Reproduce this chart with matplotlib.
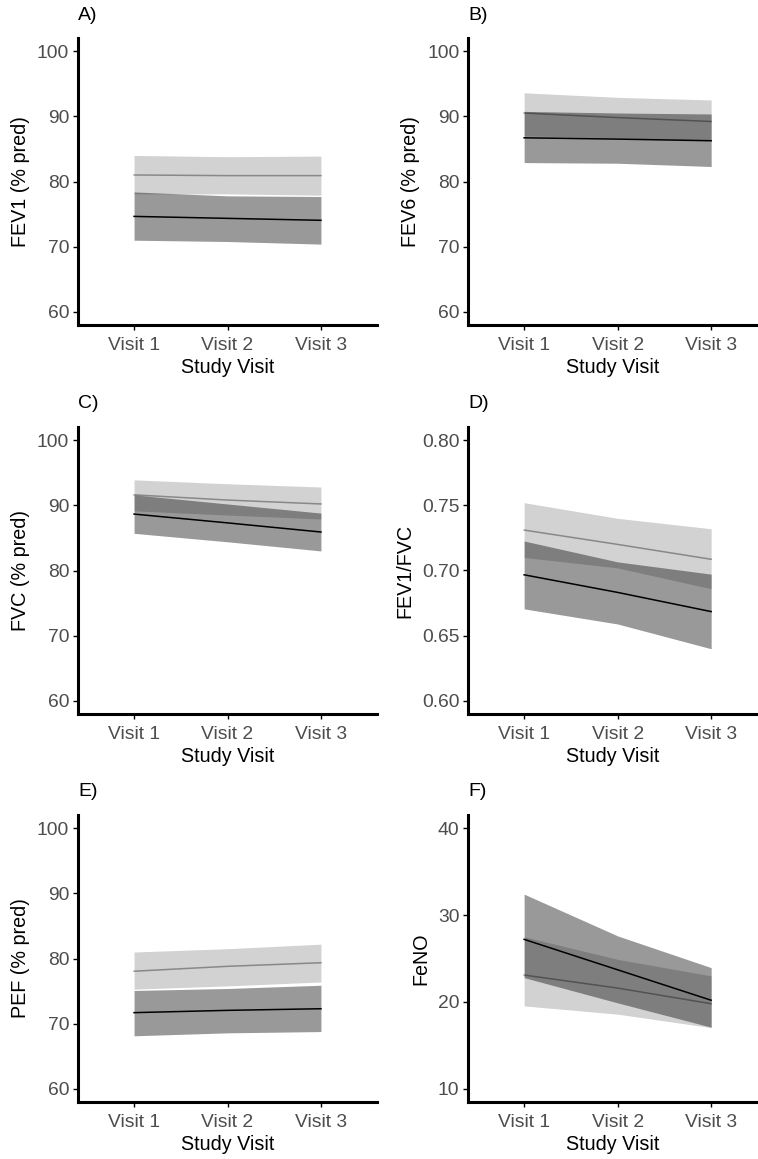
import numpy as np
import matplotlib
matplotlib.use("Agg")
import matplotlib.pyplot as plt
from matplotlib.ticker import MultipleLocator

plt.rcParams['font.family'] = ['Liberation Sans', 'DejaVu Sans']

# Donnees (moyenne, borne basse, borne haute)
visites = ["Visit 1", "Visit 2", "Visit 3"]

# A) FEV1
fev1_g1 = [81.0, 80.9, 80.9]
fev1_g1_bas = [78.1, 78.1, 77.9]
fev1_g1_haut = [84.0, 83.8, 83.9]
fev1_g2 = [74.65, 74.35, 74.05]
fev1_g2_bas = [71.0, 70.8, 70.4]
fev1_g2_haut = [78.4, 77.8, 77.7]

# B) FEV6
fev6_g1 = [90.5, 89.8, 89.2]
fev6_g1_bas = [87.0, 86.7, 86.3]
fev6_g1_haut = [93.6, 92.9, 92.5]
fev6_g2 = [86.7, 86.5, 86.25]
fev6_g2_bas = [82.9, 82.8, 82.3]
fev6_g2_haut = [90.75, 90.5, 90.35]

# C) FVC
fvc_g1 = [91.6, 90.8, 90.2]
fvc_g1_bas = [89.15, 88.5, 87.9]
fvc_g1_haut = [93.9, 93.3, 92.8]
fvc_g2 = [88.65, 87.3, 85.9]
fvc_g2_bas = [85.7, 84.4, 83.0]
fvc_g2_haut = [91.6, 90.2, 88.8]

# D) FEV1/FVC
ratio_g1 = [0.731, 0.720, 0.7086]
ratio_g1_bas = [0.710, 0.702, 0.686]
ratio_g1_haut = [0.752, 0.740, 0.732]
ratio_g2 = [0.6967, 0.6832, 0.6685]
ratio_g2_bas = [0.6706, 0.659, 0.640]
ratio_g2_haut = [0.7226, 0.7066, 0.6972]

# E) PEF
pef_g1 = [78.05, 78.8, 79.35]
pef_g1_bas = [75.3, 75.8, 76.4]
pef_g1_haut = [81.0, 81.5, 82.2]
pef_g2 = [71.7, 72.05, 72.3]
pef_g2_bas = [68.15, 68.6, 68.8]
pef_g2_haut = [75.1, 75.4, 75.9]

# F) FeNO
feno_g1 = [23.1, 21.6, 19.8]
feno_g1_bas = [19.55, 18.6, 17.05]
feno_g1_haut = [27.5, 24.9, 23.0]
feno_g2 = [27.2, 23.7, 20.2]
feno_g2_bas = [22.8, 19.9, 17.1]
feno_g2_haut = [32.4, 27.6, 23.95]

pct_ticks = [60, 70, 80, 90, 100]

W, H = 758, 1159
fig = plt.figure(figsize=(W / 100, H / 100), dpi=100)


# Creer un axe a partir de coordonnees en pixels
def axe_pixels(gauche, haut, droite, bas):
    return fig.add_axes([gauche / W, 1 - bas / H, (droite - gauche) / W, (bas - haut) / H])


# Dessiner un panneau complet
def panneau(ax, lettre, ylabel, g1, g1_bas, g1_haut, g2, g2_bas, g2_haut,
            ticks, ylim, xmax, fmt="{:g}", pas_mineur=5):
    x = np.arange(1, len(visites) + 1)
    ax.fill_between(x, g1_bas, g1_haut, color="black", alpha=0.175, linewidth=0)
    ax.fill_between(x, g2_bas, g2_haut, color="black", alpha=0.40, linewidth=0)
    ax.plot(x, g1, color="black", alpha=0.35, linewidth=1.1)
    ax.plot(x, g2, color="black", linewidth=1.1)

    ax.set_xlim(0.4, xmax)
    ax.set_ylim(*ylim)
    ax.set_xticks(x)
    ax.set_xticklabels(visites)
    ax.set_yticks(ticks)
    ax.set_yticklabels([fmt.format(t) for t in ticks])
    ax.yaxis.set_minor_locator(MultipleLocator(pas_mineur))

    for cote in ["top", "right"]:
        ax.spines[cote].set_visible(False)
    for cote in ["left", "bottom"]:
        ax.spines[cote].set_linewidth(2.2)
        ax.spines[cote].set_color("black")

    ax.tick_params(which="major", length=3.8, width=1.0, color="black",
                   labelsize=13.9, labelcolor="#4D4D4D", pad=2.5)
    ax.tick_params(axis="x", which="major", pad=4.5)
    ax.tick_params(axis="y", which="minor", length=2.5, width=0.8,
                   color="white", direction="inout")
    ax.tick_params(axis="x", which="minor", length=0)

    ax.set_xlabel("Study Visit", fontsize=14.2, labelpad=3.5)
    ax.set_ylabel(ylabel, fontsize=14.2, labelpad=5)

    # Lettre du panneau au-dessus de l'axe
    ax.text(0.0, 1.0 + 23 / 287, lettre, transform=ax.transAxes,
            fontsize=14, ha="left", va="center")


axA = axe_pixels(78, 38, 377, 325)
axB = axe_pixels(468, 38, 757, 325)
axC = axe_pixels(78, 427, 377, 714)
axD = axe_pixels(468, 427, 757, 714)
axE = axe_pixels(78, 815, 377, 1102)
axF = axe_pixels(468, 815, 757, 1102)

panneau(axA, "A)", "FEV1 (% pred)", fev1_g1, fev1_g1_bas, fev1_g1_haut,
        fev1_g2, fev1_g2_bas, fev1_g2_haut, pct_ticks, (58, 102), 3.6)
panneau(axB, "B)", "FEV6 (% pred)", fev6_g1, fev6_g1_bas, fev6_g1_haut,
        fev6_g2, fev6_g2_bas, fev6_g2_haut, pct_ticks, (58, 102), 3.49)
panneau(axC, "C)", "FVC (% pred)", fvc_g1, fvc_g1_bas, fvc_g1_haut,
        fvc_g2, fvc_g2_bas, fvc_g2_haut, pct_ticks, (58, 102), 3.6)
panneau(axD, "D)", "FEV1/FVC", ratio_g1, ratio_g1_bas, ratio_g1_haut,
        ratio_g2, ratio_g2_bas, ratio_g2_haut, [0.60, 0.65, 0.70, 0.75, 0.80],
        (0.59, 0.81), 3.49, fmt="{:.2f}", pas_mineur=0.025)
panneau(axE, "E)", "PEF (% pred)", pef_g1, pef_g1_bas, pef_g1_haut,
        pef_g2, pef_g2_bas, pef_g2_haut, pct_ticks, (58, 102), 3.6)
panneau(axF, "F)", "FeNO", feno_g1, feno_g1_bas, feno_g1_haut,
        feno_g2, feno_g2_bas, feno_g2_haut, [10, 20, 30, 40],
        (8.5, 41.5), 3.49)

fig.savefig("out.png", dpi=100)
